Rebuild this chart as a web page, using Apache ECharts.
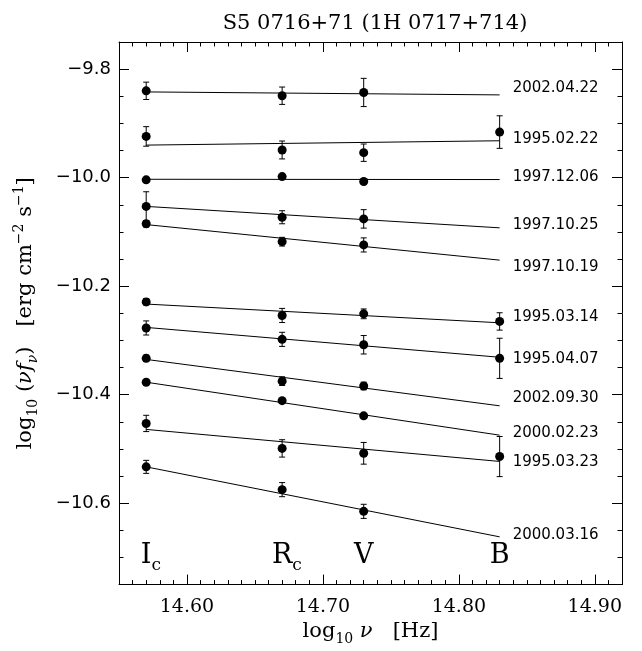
<!DOCTYPE html>
<html><head><meta charset="utf-8">
<script src="https://cdn.jsdelivr.net/npm/echarts@6/dist/echarts.min.js"></script>
<style>html,body{margin:0;padding:0;background:#fff}#c{width:642px;height:651px}</style>
</head><body><div id="c"></div>
<script>
// ---------- data ----------
const bandName = ['I', 'R', 'V', 'B'];
const bandSub = ['c', 'c', '', ''];
const bandLogNu = [14.57, 14.67, 14.73, 14.83];
const epochs = ['2002.04.22','1995.02.22','1997.12.06','1997.10.25','1997.10.19','1995.03.14','1995.04.07','2002.09.30','2000.02.23','1995.03.23','2000.03.16'];
const fluxIc = [-9.840,-9.924,-10.004,-10.053,-10.085,-10.229,-10.277,-10.333,-10.377,-10.453,-10.533];
const errIc  = [0.016,0.018,0.003,0.027,0.006,0.006,0.013,0.006,0.003,0.015,0.012];
const fluxRc = [-9.849,-9.949,-9.998,-10.073,-10.118,-10.254,-10.298,-10.375,-10.411,-10.499,-10.575];
const errRc  = [0.016,0.0165,0.003,0.012,0.008,0.013,0.013,0.008,0.003,0.016,0.013];
const fluxV  = [-9.843,-9.954,-10.007,-10.076,-10.124,-10.251,-10.308,-10.384,-10.439,-10.508,-10.615];
const errV   = [0.026,0.016,0.003,0.017,0.013,0.009,0.017,0.007,0.003,0.020,0.013];
const fluxB  = [null,-9.916,null,null,null,-10.265,-10.333,null,null,-10.514,null];
const errB   = [null,0.030,null,null,null,0.016,0.037,null,null,0.037,null];
const fitIc  = [-9.842,-9.940,-10.003,-10.053,-10.0865,-10.233,-10.276,-10.335,-10.377,-10.464,-10.533];
const fitB   = [-9.8475,-9.932,-10.0035,-10.0925,-10.152,-10.2675,-10.331,-10.4205,-10.4746,-10.523,-10.662];
const xTickValues = [14.60, 14.70, 14.80, 14.90];
const yTickValues = [-9.8, -10.0, -10.2, -10.4, -10.6];
const bandLabelLevel = -10.697;

// ---------- style ----------
const labelNudge = [-7,-2,-2,-3,7,-6,2,-8,-2,1,-2];
const SERIF = '"DejaVu Serif", serif';
const SANS = '"DejaVu Sans", sans-serif';
const INK = '#000';
const X_MIN = 14.55, X_MAX = 14.92, Y_MIN = -10.75, Y_MAX = -9.75;

const xMinor = [];
for (let k = 1; k < 37; k++) { const v = +(X_MIN + 0.01 * k).toFixed(2); if (Math.abs(v * 10 - Math.round(v * 10)) > 1e-6) xMinor.push(v); }
const yMinor = [];
for (let k = 1; k < 20; k++) { const v = +(Y_MIN + 0.05 * k).toFixed(2); if (Math.abs(v / 0.2 - Math.round(v / 0.2)) > 1e-6) yMinor.push(v); }

const fluxBands = [fluxIc, fluxRc, fluxV, fluxB];
const errBands = [errIc, errRc, errV, errB];
const points = [];
fluxBands.forEach((arr, b) => arr.forEach((v, i) => { if (v !== null) points.push([bandLogNu[b], v, errBands[b][i]]); }));

const ctx = document.createElement('canvas').getContext('2d');
ctx.font = '27px "DejaVu Serif"';

const NAME_RICH = {
  n: { fontFamily: SERIF, fontSize: 21, lineHeight: 28, color: INK },
  i: { fontFamily: SERIF, fontSize: 21, lineHeight: 28, fontStyle: 'italic', color: INK },
  sub: { fontFamily: SERIF, fontSize: 14, lineHeight: 17, verticalAlign: 'bottom', color: INK },
  isub: { fontFamily: SERIF, fontSize: 14, lineHeight: 17, verticalAlign: 'bottom', fontStyle: 'italic', color: INK },
  sup: { fontFamily: SERIF, fontSize: 14, lineHeight: 17, verticalAlign: 'top', color: INK }
};

function xAxisDef(pos, major, labels) {
  return {
    type: 'value', position: pos, min: X_MIN, max: X_MAX, gridIndex: 0,
    axisLine: { show: major, lineStyle: { color: INK, width: 1 } },
    axisTick: { show: true, inside: true, length: major ? 10 : 4.5, customValues: major ? xTickValues : xMinor, lineStyle: { color: INK, width: 1 } },
    axisLabel: labels ? { show: true, customValues: xTickValues, formatter: v => (+v).toFixed(2), color: INK, fontFamily: SERIF, fontSize: 19, margin: 13 } : { show: false },
    splitLine: { show: false }, minorTick: { show: false },
    name: labels ? '{n|log}{sub|10}{n| }{i|ν}{n|   [Hz]}' : '',
    nameLocation: 'middle', nameGap: 32,
    nameTextStyle: { color: INK, fontFamily: SERIF, fontSize: 21, rich: NAME_RICH }
  };
}
function yAxisDef(pos, major, labels) {
  return {
    type: 'value', position: pos, min: Y_MIN, max: Y_MAX, gridIndex: 0,
    axisLine: { show: major, lineStyle: { color: INK, width: 1 } },
    axisTick: { show: true, inside: true, length: major ? 10 : 4.5, customValues: major ? yTickValues : yMinor, lineStyle: { color: INK, width: 1 } },
    axisLabel: labels ? { show: true, customValues: yTickValues, formatter: v => (v < 0 ? '\u2212' : '') + Math.abs(v).toFixed(1), color: INK, fontFamily: SANS, fontSize: 18, margin: 8 } : { show: false },
    splitLine: { show: false }, minorTick: { show: false },
    name: labels ? '{n|log}{sub|10}{n| (}{i|νf}{isub|ν}{n|)   [erg cm}{sup|\u22122}{n| s}{sup|\u22121}{n|]}' : '',
    nameLocation: 'middle', nameGap: 79, nameRotate: 90,
    nameTextStyle: { color: INK, fontFamily: SERIF, fontSize: 21, rich: NAME_RICH }
  };
}

const series = [];
epochs.forEach((name, i) => {
  series.push({
    type: 'line', name: name, xAxisIndex: 0, yAxisIndex: 0,
    data: [[bandLogNu[0], fitIc[i]], [bandLogNu[3], fitB[i]]],
    symbol: 'none', lineStyle: { color: INK, width: 1, opacity: 1 }, silent: true, z: 2
  });
});
series.push({
  type: 'custom', xAxisIndex: 0, yAxisIndex: 0, z: 3, silent: true,
  data: points,
  renderItem: function (params, api) {
    const x = api.value(0), y = api.value(1), e = api.value(2);
    const t = api.coord([x, y + e]), b = api.coord([x, y - e]);
    const c = 3;
    const st = { stroke: INK, lineWidth: 1 };
    return { type: 'group', children: [
      { type: 'line', shape: { x1: t[0], y1: t[1], x2: b[0], y2: b[1] }, style: st },
      { type: 'line', shape: { x1: t[0] - c, y1: t[1], x2: t[0] + c, y2: t[1] }, style: st },
      { type: 'line', shape: { x1: b[0] - c, y1: b[1], x2: b[0] + c, y2: b[1] }, style: st }
    ] };
  },
  encode: { x: 0, y: 1 }
});
series.push({
  type: 'scatter', xAxisIndex: 0, yAxisIndex: 0, z: 4, silent: true,
  data: points.map(p => [p[0], p[1]]),
  symbol: 'circle', symbolSize: 9, itemStyle: { color: INK, opacity: 1 }
});
series.push({
  type: 'scatter', xAxisIndex: 0, yAxisIndex: 0, z: 5, silent: true,
  symbolSize: 0, itemStyle: { opacity: 1 },
  data: epochs.map((name, i) => ({ value: [bandLogNu[3], fitB[i]], label: { offset: [0, labelNudge[i]] } })),
  label: { show: true, position: 'right', distance: 13, opacity: 1, formatter: p => epochs[p.dataIndex], color: INK, fontFamily: SANS, fontSize: 15 }
});
series.push({
  type: 'scatter', xAxisIndex: 0, yAxisIndex: 0, z: 5, silent: true,
  symbolSize: 0, itemStyle: { opacity: 1 },
  data: bandName.map((n, b) => ({ value: [bandLogNu[b], bandLabelLevel], label: { offset: [-ctx.measureText(n).width / 2, 0] } })),
  label: { show: true, position: 'inside', align: 'left', opacity: 1,
    formatter: p => '{m|' + bandName[p.dataIndex] + '}' + (bandSub[p.dataIndex] ? '{s|' + bandSub[p.dataIndex] + '}' : ''),
    rich: {
      m: { fontFamily: SERIF, fontSize: 27, lineHeight: 37, color: INK },
      s: { fontFamily: SERIF, fontSize: 17, lineHeight: 17, verticalAlign: 'bottom', color: INK }
    } }
});

const chart = echarts.init(document.getElementById('c'), null, { renderer: 'canvas' });
chart.setOption({
  animation: false,
  backgroundColor: '#fff',
  title: { text: 'S5 0716+71 (1H 0717+714)', left: 370, textAlign: 'center', top: 8,
    textStyle: { fontFamily: SERIF, fontWeight: 'normal', fontSize: 21, color: INK } },
  grid: { left: 119, right: 20, top: 42, bottom: 62, containLabel: false },
  xAxis: [xAxisDef('bottom', true, true), xAxisDef('bottom', false, false), xAxisDef('top', true, false), xAxisDef('top', false, false)],
  yAxis: [yAxisDef('left', true, true), yAxisDef('left', false, false), yAxisDef('right', true, false), yAxisDef('right', false, false)],
  series: series
});
</script>
</body></html>
